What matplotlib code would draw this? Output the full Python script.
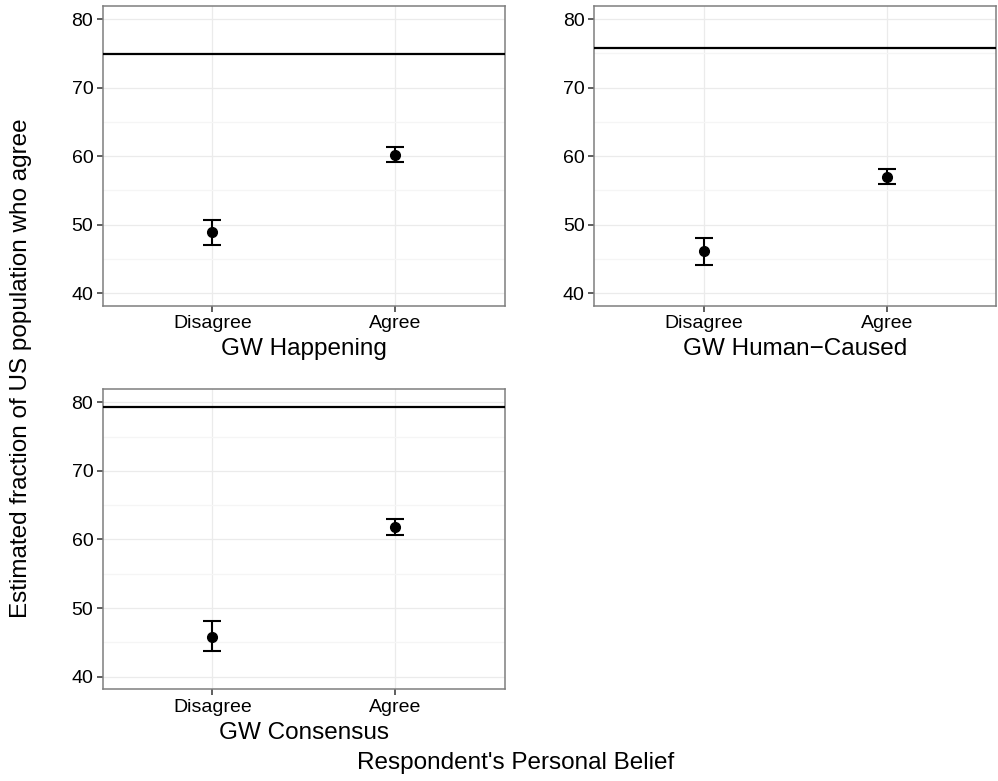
import matplotlib
matplotlib.use("Agg")
import matplotlib.pyplot as plt
from matplotlib.ticker import MultipleLocator

plt.rcParams['font.family'] = ['Liberation Sans', 'DejaVu Sans']

categories = ["Disagree", "Agree"]
panel_titles = ["GW Happening", "GW Human\u2212Caused", "GW Consensus"]
means = [[48.9, 60.2], [46.1, 57.0], [45.8, 61.8]]
lower = [[47.05, 59.15], [44.2, 55.9], [43.7, 60.6]]
upper = [[50.75, 61.35], [48.0, 58.1], [48.1, 63.0]]
hlines = [74.95, 75.8, 79.35]
y_ticks = [40, 50, 60, 70, 80]

W, H = 998, 781
fig = plt.figure(figsize=(W / 100, H / 100), dpi=100)

boxes = [
    (102.7, 5.7, 505.0, 306.0),
    (594.3, 5.7, 996.3, 306.0),
    (102.7, 389.0, 505.0, 689.3),
]
title_y = [349, 349, 733]

for i, (x0, y0, x1, y1) in enumerate(boxes):
    ax = fig.add_axes([x0 / W, 1 - y1 / H, (x1 - x0) / W, (y1 - y0) / H])
    xs = [1, 2]
    yerr = [[m - l for m, l in zip(means[i], lower[i])],
            [u - m for m, u in zip(means[i], upper[i])]]
    ax.axhline(hlines[i], color='black', lw=1.6, zorder=3)
    ax.errorbar(xs, means[i], yerr=yerr, fmt='o', color='black', ms=7,
                capsize=6.3, elinewidth=1.5, capthick=1.5, zorder=4)
    ax.set_xlim(0.4, 2.6)
    ax.set_ylim(38.15, 81.95)
    ax.set_xticks(xs)
    ax.set_xticklabels(categories)
    ax.set_yticks(y_ticks)
    ax.yaxis.set_minor_locator(MultipleLocator(5))
    ax.grid(True, which='major', color='#ebebeb', lw=0.9)
    ax.grid(True, which='minor', axis='y', color='#f5f5f5', lw=0.9)
    ax.set_axisbelow(True)
    for s in ax.spines.values():
        s.set_color('#7f7f7f')
        s.set_linewidth(1.1)
    ax.tick_params(axis='both', which='major', length=4.3, width=1.1,
                   color='#333333', labelsize=14, labelcolor='black', pad=2.5)
    ax.tick_params(axis='both', which='minor', length=0)
    cx = (x0 + x1) / 2
    fig.text(cx / W, 1 - title_y[i] / H, panel_titles[i], ha='center',
             va='center', fontsize=17.5, color='black')

fig.text(21 / W, 1 - 368 / H, "Estimated fraction of US population who agree",
         rotation=90, ha='center', va='center', fontsize=17.5, color='black')
fig.text(516 / W, 1 - 763 / H, "Respondent's Personal Belief",
         ha='center', va='center', fontsize=17.5, color='black')

fig.savefig("out.png", dpi=100, facecolor='white')
